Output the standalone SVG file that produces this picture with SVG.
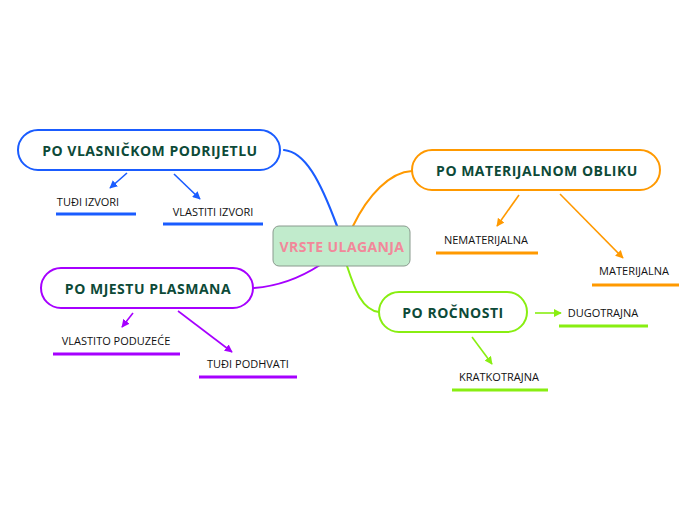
<svg xmlns="http://www.w3.org/2000/svg" width="696" height="520" viewBox="0 0 696 520">
<style>
.h{font-family:"Open Sans","Noto Sans",sans-serif;font-weight:bold;font-size:14px;letter-spacing:0.5px;fill:#0d4a38;text-anchor:middle;dominant-baseline:central}
.l{font-family:"Open Sans","Noto Sans",sans-serif;font-size:11px;fill:#111;text-anchor:middle;dominant-baseline:central}
.box{fill:#fff;stroke-width:2}
.u{stroke-width:3;fill:none}
.a{stroke-width:1.6;fill:none}
.c{fill:none;stroke-linecap:round}
</style>
<defs>
<marker id="mb" viewBox="0 0 10 10" refX="9" refY="5" markerWidth="8" markerHeight="8" orient="auto" markerUnits="userSpaceOnUse"><path d="M0,0L10,5L0,10z" fill="#1a5cff"/></marker>
<marker id="mo" viewBox="0 0 10 10" refX="9" refY="5" markerWidth="8" markerHeight="8" orient="auto" markerUnits="userSpaceOnUse"><path d="M0,0L10,5L0,10z" fill="#ff9900"/></marker>
<marker id="mp" viewBox="0 0 10 10" refX="9" refY="5" markerWidth="8" markerHeight="8" orient="auto" markerUnits="userSpaceOnUse"><path d="M0,0L10,5L0,10z" fill="#a600ff"/></marker>
<marker id="mg" viewBox="0 0 10 10" refX="9" refY="5" markerWidth="8" markerHeight="8" orient="auto" markerUnits="userSpaceOnUse"><path d="M0,0L10,5L0,10z" fill="#88ee11"/></marker>
</defs>
<rect width="696" height="520" fill="#fff"/>
<g id="connectors">
<path class="c" d="M284,150 C305,152 320,180 337,226" stroke="#1a5cff" stroke-width="2.2"/>
<path class="c" d="M412,171 C390,172 368,195 353,226" stroke="#ff9900" stroke-width="2"/>
<path class="c" d="M254,288 C280,286 300,278 320,265" stroke="#a600ff" stroke-width="2"/>
<path class="c" d="M347,266 C355,290 362,310 379,312" stroke="#88ee11" stroke-width="2"/>
<line class="a" x1="127" y1="173" x2="110" y2="188" stroke="#1a5cff" marker-end="url(#mb)"/>
<line class="a" x1="174" y1="174" x2="200" y2="199" stroke="#1a5cff" marker-end="url(#mb)"/>
<line class="a" x1="519" y1="195" x2="497" y2="226" stroke="#ff9900" marker-end="url(#mo)"/>
<line class="a" x1="560" y1="194" x2="623" y2="258" stroke="#ff9900" marker-end="url(#mo)"/>
<line class="a" x1="133" y1="313" x2="122" y2="327" stroke="#a600ff" marker-end="url(#mp)"/>
<line class="a" x1="178" y1="311" x2="232" y2="352" stroke="#a600ff" marker-end="url(#mp)"/>
<line class="a" x1="535" y1="313" x2="561" y2="313" stroke="#88ee11" marker-end="url(#mg)"/>
<line class="a" x1="472" y1="337" x2="492" y2="364" stroke="#88ee11" marker-end="url(#mg)"/>
</g>
<g id="center">
<rect x="273" y="226" width="137" height="40" rx="6" fill="#c1ebcc" stroke="#8a9a8e" stroke-width="1"/>
<text class="h" x="342" y="246" style="fill:#f2889a;letter-spacing:0.4px">VRSTE ULAGANJA</text>
</g>
<g id="vlasnickom">
<rect class="box" x="18" y="130" width="262" height="40" rx="20" stroke="#1a5cff"/>
<text class="h" x="150" y="150">PO VLASNIČKOM PODRIJETLU</text>
</g>
<g id="tudi-izvori">
<text class="l" x="88" y="201">TUĐI IZVORI</text>
<line class="u" x1="56" y1="214" x2="136" y2="214" stroke="#1a5cff"/>
</g>
<g id="vlastiti-izvori">
<text class="l" x="213" y="211">VLASTITI IZVORI</text>
<line class="u" x1="163" y1="224" x2="263" y2="224" stroke="#1a5cff"/>
</g>
<g id="materijalnom">
<rect class="box" x="412" y="150" width="248" height="40" rx="20" stroke="#ff9900"/>
<text class="h" x="537" y="170.5">PO MATERIJALNOM OBLIKU</text>
</g>
<g id="nematerijalna">
<text class="l" x="486" y="239">NEMATERIJALNA</text>
<line class="u" x1="436" y1="253" x2="538" y2="253" stroke="#ff9900"/>
</g>
<g id="materijalna">
<text class="l" x="634" y="270">MATERIJALNA</text>
<line class="u" x1="592" y1="285" x2="679" y2="285" stroke="#ff9900"/>
</g>
<g id="mjestu">
<rect class="box" x="41" y="268" width="212" height="40" rx="20" stroke="#a600ff"/>
<text class="h" x="148" y="288">PO MJESTU PLASMANA</text>
</g>
<g id="vlastito-poduzece">
<text class="l" x="116" y="340">VLASTITO PODUZEĆE</text>
<line class="u" x1="53" y1="354" x2="180" y2="354" stroke="#a600ff"/>
</g>
<g id="tudi-podhvati">
<text class="l" x="248" y="363">TUĐI PODHVATI</text>
<line class="u" x1="199" y1="377" x2="297" y2="377" stroke="#a600ff"/>
</g>
<g id="rocnosti">
<rect class="box" x="379" y="292" width="148" height="40" rx="20" stroke="#88ee11"/>
<text class="h" x="453" y="312">PO ROČNOSTI</text>
</g>
<g id="dugotrajna">
<text class="l" x="603" y="312">DUGOTRAJNA</text>
<line class="u" x1="559" y1="326" x2="648" y2="326" stroke="#88ee11"/>
</g>
<g id="kratkotrajna">
<text class="l" x="499" y="376">KRATKOTRAJNA</text>
<line class="u" x1="452" y1="390" x2="548" y2="390" stroke="#88ee11"/>
</g>
</svg>
